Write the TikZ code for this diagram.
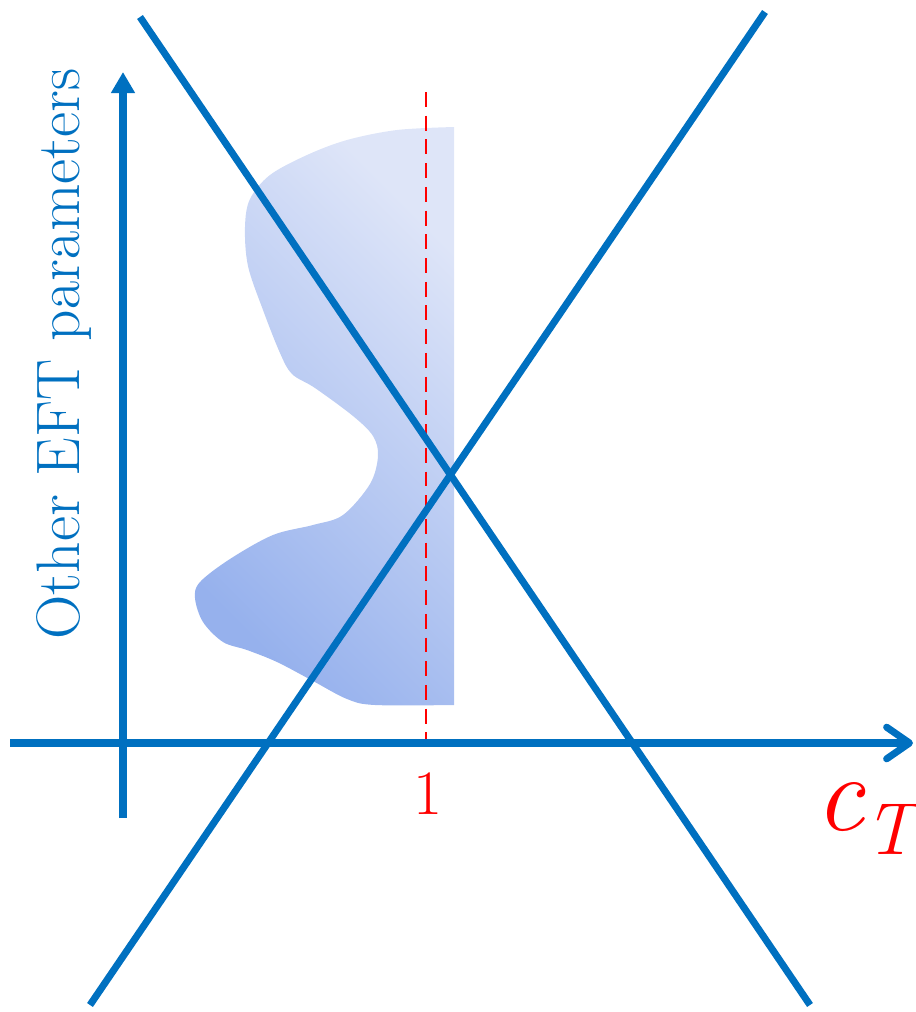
\documentclass[tikz,border=0pt]{standalone}
\usepackage{fontspec}
\usetikzlibrary{arrows.meta}
\definecolor{linesblue}{RGB}{0,112,192}
\definecolor{blobdark}{RGB}{150,177,237}
\definecolor{bloblight}{RGB}{222,229,248}

\begin{document}
\begin{tikzpicture}[x=0.02cm, y=-0.02cm]
  \useasboundingbox (0,0) rectangle (916,1012);
  \shade[top color=bloblight, bottom color=blobdark, shading angle=-45]
    plot[smooth, tension=0.55] coordinates {(454,127) (397,130) (347,140)
      (307,155) (270,175) (250,199) (245,227) (248,266) (263,310) (280,353)
      (292,374) (315,388) (353,416) (373,436) (378,456) (370,484) (343,515)
      (313,525) (273,535) (230,559) (200,582) (195,598) (203,622) (223,642)
      (247,650) (277,662) (313,681) (347,699) (375,705) (454,705)} -- cycle;
  \coordinate (onetop) at (426,92);
  \coordinate (onebot) at (426,743);
  \draw[red, line width=1.4pt, dash pattern=on 8.5pt off 5pt] (onetop) -- (onebot);
  \coordinate (xstart) at (10,743);
  \coordinate (xend) at (913,743);
  \coordinate (ystart) at (123,818);
  \coordinate (yend) at (123,72);
  \draw[linesblue, line width=4pt, -{Straight Barb[length=13pt, width=18pt, round]}]
    (xstart) -- (xend);
  \draw[linesblue, line width=4pt, -{Triangle[length=12pt, width=13pt]}]
    (ystart) -- (yend);
  \coordinate (dtop) at (140,17);
  \coordinate (dbot) at (810,1005);
  \coordinate (abot) at (90,1005);
  \coordinate (atop) at (765,12);
  \draw[linesblue, line width=4pt] (dtop) -- (dbot);
  \draw[linesblue, line width=4pt] (abot) -- (atop);
  \node[red, font=\fontsize{36}{40}\selectfont] (one) at (428,794) {1};
  \node[red, font=\fontsize{62}{64}\selectfont\itshape] (ct) at (866,818)
    {c\raisebox{-0.22em}{\fontsize{42}{42}\selectfont T}};
  \node[linesblue, rotate=90, font=\fontsize{35}{40}\selectfont] (ylabel) at (64,354)
    {Other EFT parameters};
\end{tikzpicture}
\end{document}
